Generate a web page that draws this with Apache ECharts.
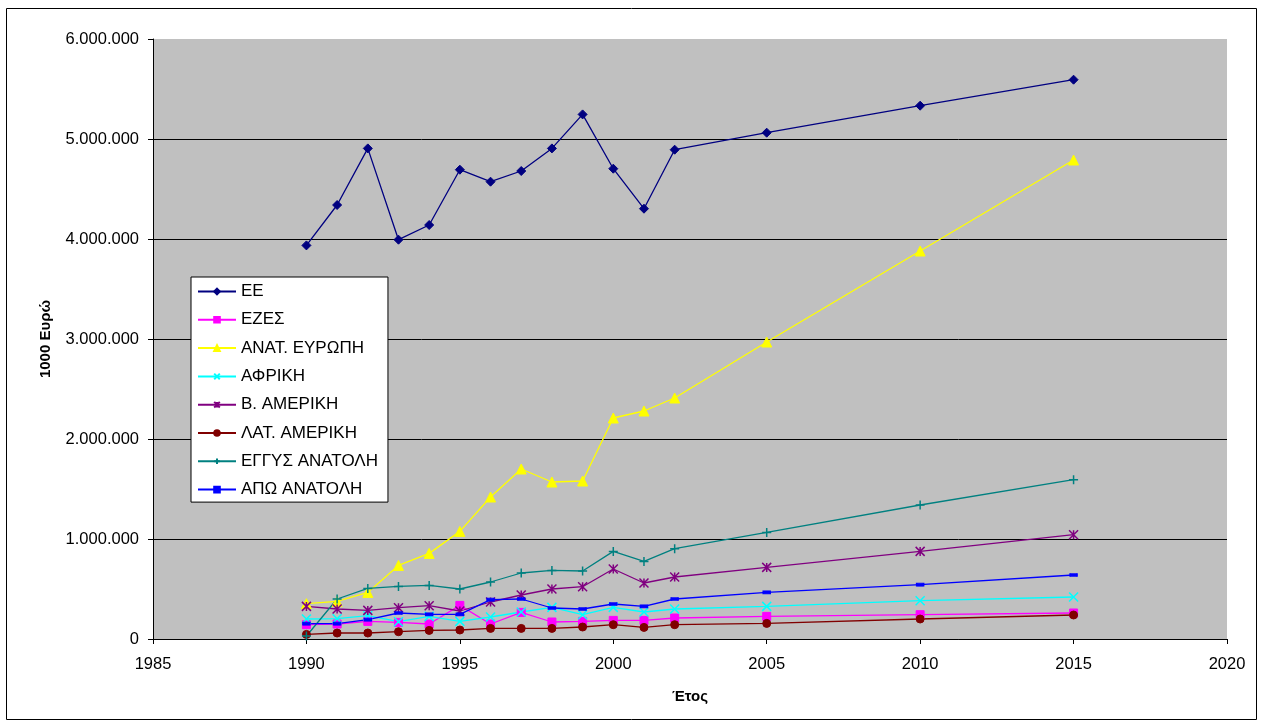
<!DOCTYPE html>
<html>
<head>
<meta charset="utf-8">
<script src="https://cdn.jsdelivr.net/npm/echarts@6/dist/echarts.min.js"></script>
<style>
  html, body { margin: 0; padding: 0; background: #fff; }
  #chart { width: 1262px; height: 725px; }
</style>
</head>
<body>
<div id="chart"></div>
<script>
// έτη
const years = [1990, 1991, 1992, 1993, 1994, 1995, 1996, 1997, 1998, 1999, 2000, 2001, 2002, 2005, 2010, 2015];

// τιμές σε 1000 Ευρώ
const ee       = [3936000, 4340000, 4906000, 3993000, 4140000, 4693000, 4573000, 4680000, 4906000, 5246000, 4703000, 4303000, 4893000, 5063000, 5333000, 5593000];
const ezes     = [143000, 150000, 176000, 166000, 150000, 336000, 150000, 266000, 170000, 176000, 186000, 186000, 210000, 226000, 243000, 260000];
const anatEur  = [353000, 376000, 466000, 736000, 856000, 1076000, 1420000, 1700000, 1570000, 1580000, 2210000, 2280000, 2410000, 2970000, 3880000, 4790000];
const afriki   = [200000, 203000, 233000, 173000, 226000, 176000, 220000, 270000, 316000, 243000, 316000, 270000, 300000, 326000, 383000, 420000];
const vAmeriki = [326000, 300000, 286000, 313000, 333000, 280000, 370000, 440000, 500000, 523000, 700000, 560000, 620000, 716000, 876000, 1043000];
const latAmer  = [46000, 60000, 60000, 73000, 86000, 90000, 106000, 106000, 106000, 120000, 143000, 116000, 143000, 156000, 200000, 240000];
const engysAn  = [30000, 400000, 506000, 526000, 536000, 500000, 570000, 660000, 686000, 680000, 876000, 776000, 903000, 1066000, 1340000, 1593000];
const apoAn    = [153000, 153000, 193000, 260000, 246000, 246000, 393000, 400000, 310000, 300000, 350000, 326000, 400000, 466000, 543000, 640000];

const chart = echarts.init(document.getElementById('chart'));

const pairs = arr => years.map((y, i) => [y, arr[i]]);

// σειρά γραμμής με σύμβολο
const makeSeries = (name, arr, color, symbol, size, stroke) => ({
    name: name,
    type: 'line',
    data: pairs(arr),
    symbol: symbol,
    symbolSize: size,
    showAllSymbol: true,
    lineStyle: { color: color, width: 1.3 },
    itemStyle: { color: color, borderColor: color, borderWidth: stroke },
    emphasis: { disabled: true },
    animation: false
});

const dots = n => String(n).replace(/\B(?=(\d{3})+(?!\d))/g, '.');
const FONT = 'Liberation Sans, Arial, sans-serif';

const options = {
    backgroundColor: '#fff',
    textStyle: { fontFamily: FONT },
    graphic: [{
        type: 'rect',
        shape: { x: 6.5, y: 8.5, width: 1250, height: 711 },
        style: { fill: null, stroke: '#000', lineWidth: 1 },
        silent: true
    }],
    grid: {
        left: 153, right: 35, top: 39, bottom: 86,
        show: true, backgroundColor: '#c0c0c0', borderWidth: 0
    },
    legend: {
        orient: 'vertical',
        left: 191, top: 277,
        padding: [6, 10, 4, 6],
        itemGap: 11.3,
        itemWidth: 38, itemHeight: 7,
        backgroundColor: '#fff',
        borderColor: '#000', borderWidth: 1,
        textStyle: { fontSize: 17, lineHeight: 17, color: '#000', fontFamily: FONT },
        selectedMode: false
    },
    xAxis: {
        type: 'value',
        min: 1985, max: 2020, interval: 5,
        name: 'Έτος',
        nameLocation: 'middle',
        nameGap: 50,
        nameTextStyle: { fontWeight: 'bold', fontSize: 15, color: '#000' },
        axisLine: { show: true, lineStyle: { color: '#000', width: 1 } },
        axisTick: { show: true, length: 5, lineStyle: { color: '#000' } },
        axisLabel: { color: '#000', fontSize: 16.5, margin: 17, formatter: v => String(v) },
        splitLine: { show: false }
    },
    yAxis: {
        type: 'value',
        min: 0, max: 6000000, interval: 1000000,
        name: '1000 Ευρώ',
        nameLocation: 'middle',
        nameGap: 100,
        nameRotate: 90,
        nameTextStyle: { fontWeight: 'bold', fontSize: 15, color: '#000' },
        axisLine: { show: true, lineStyle: { color: '#000', width: 1 } },
        axisTick: { show: true, length: 5, lineStyle: { color: '#000' } },
        axisLabel: { color: '#000', fontSize: 16.5, margin: 14, formatter: v => dots(v) },
        splitLine: { show: true, showMaxLine: false, lineStyle: { color: '#000', width: 1 } }
    },
    series: [
        makeSeries('ΕΕ', ee, '#000080', 'diamond', 9, 1),
        makeSeries('ΕΖΕΣ', ezes, '#ff00ff', 'rect', 8, 1),
        makeSeries('ΑΝΑΤ. ΕΥΡΩΠΗ', anatEur, '#ffff00', 'triangle', 10, 1),
        makeSeries('ΑΦΡΙΚΗ', afriki, '#00ffff', 'path://M0,0L10,10M10,0L0,10', 9, 1.5),
        makeSeries('Β. ΑΜΕΡΙΚΗ', vAmeriki, '#800080', 'path://M0,0L10,10M10,0L0,10M5,0L5,10', 9, 1.5),
        makeSeries('ΛΑΤ. ΑΜΕΡΙΚΗ', latAmer, '#800000', 'circle', 8, 1),
        makeSeries('ΕΓΓΥΣ ΑΝΑΤΟΛΗ', engysAn, '#008080', 'path://M5,0L5,10M0,5L10,5', 9, 1.5),
        makeSeries('ΑΠΩ ΑΝΑΤΟΛΗ', apoAn, '#0000ff', 'rect', [7, 3], 1)
    ]
};

chart.setOption(options);
</script>
</body>
</html>
